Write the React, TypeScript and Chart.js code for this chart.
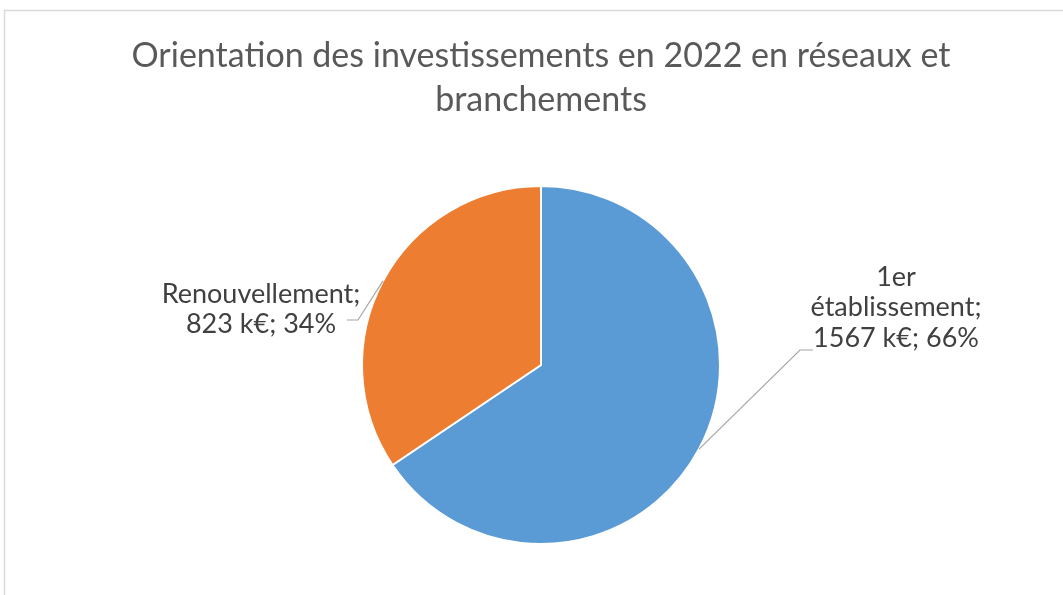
import React, { useEffect, useRef } from "react";
import { Chart, registerables } from "chart.js";

Chart.register(...registerables);

const categories = ["1er établissement", "Renouvellement"];
const values = [1567, 823];
const unit = "k€";
const colors = ["#5B9BD5", "#ED7D31"];
const titleLines = ["Orientation des investissements en 2022 en réseaux et", "branchements"];
const labelLines = [
  ["1er", "établissement;"],
  ["Renouvellement;"],
];

const FONT = "Lato, 'Open Sans', sans-serif";

export default function App() {
  const ref = useRef<HTMLCanvasElement | null>(null);

  useEffect(() => {
    document.body.style.margin = "0";
    const canvas = ref.current!;
    const total = values.reduce((a, b) => a + b, 0);

    const framePlugin = {
      id: "frame",
      beforeDraw(chart: any) {
        const ctx = chart.ctx;
        ctx.save();
        ctx.fillStyle = "#ffffff";
        ctx.fillRect(0, 0, chart.width, chart.height);
        ctx.strokeStyle = "#d9d9d9";
        ctx.lineWidth = 1.5;
        ctx.strokeRect(4.5, 10.5, chart.width + 20, chart.height + 20);
        ctx.restore();
      },
    };

    // label layout relative to pie centre
    const labelLayout = [
      { elbow: [259, -15], end: [272, -15], text: [355, -88], step: 30.5 },
      { elbow: [-183, -45], end: [-194, -45], text: [-280, -71], step: 30 },
    ];

    const labelPlugin = {
      id: "pieLabels",
      afterDraw(chart: any) {
        const ctx = chart.ctx;
        const meta = chart.getDatasetMeta(0);
        meta.data.forEach((arc: any, i: number) => {
          const p = arc.getProps(["x", "y", "startAngle", "endAngle", "outerRadius"], true);
          const mid = (p.startAngle + p.endAngle) / 2;
          const ex = p.x + Math.cos(mid) * p.outerRadius;
          const ey = p.y + Math.sin(mid) * p.outerRadius;
          const L = labelLayout[i];
          ctx.save();
          ctx.strokeStyle = "#a6a6a6";
          ctx.lineWidth = 1.2;
          ctx.beginPath();
          ctx.moveTo(ex, ey);
          ctx.lineTo(p.x + L.elbow[0], p.y + L.elbow[1]);
          ctx.lineTo(p.x + L.end[0], p.y + L.end[1]);
          ctx.stroke();
          const pct = Math.round((values[i] / total) * 100);
          const lines = [...labelLines[i], `${values[i]} ${unit}; ${pct}%`];
          ctx.fillStyle = "#404040";
          ctx.font = `27px ${FONT}`;
          ctx.textAlign = "center";
          ctx.textBaseline = "middle";
          lines.forEach((t, k) => {
            ctx.fillText(t, p.x + L.text[0], p.y + L.text[1] + k * L.step);
          });
          ctx.restore();
        });
      },
    };

    const chart = new Chart(canvas, {
      type: "pie",
      data: {
        labels: categories,
        datasets: [
          {
            data: values,
            backgroundColor: colors,
            borderColor: "#ffffff",
            borderWidth: 2,
          },
        ],
      },
      options: {
        responsive: false,
        animation: false,
        layout: { padding: { left: 19, right: 0, top: 0, bottom: 50 } },
        plugins: {
          legend: { display: false },
          tooltip: { enabled: false },
          title: {
            display: true,
            text: titleLines,
            color: "#595959",
            font: { family: FONT, size: 34, weight: "normal", lineHeight: 44 / 34 },
            padding: { top: 34, bottom: 63 },
          },
        },
      },
      plugins: [framePlugin, labelPlugin],
    });
    return () => chart.destroy();
  }, []);

  return (
    <div style={{ position: "fixed", left: 0, top: 0, width: 1063, height: 595 }}>
      <canvas ref={ref} width={1063} height={595} style={{ display: "block" }} />
    </div>
  );
}
